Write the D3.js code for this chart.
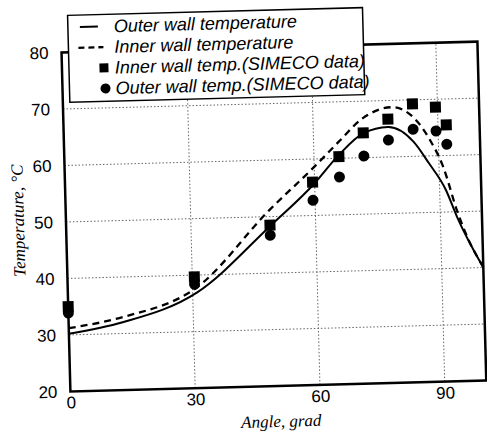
<!DOCTYPE html>
<html>
<head>
<meta charset="utf-8">
<script src="https://cdn.jsdelivr.net/npm/d3@7"></script>
<style>
  body { margin: 0; background: #fff; }
  svg { display: block; }
</style>
</head>
<body>
<svg id="chart"></svg>
<script>
/*
Data
*/

// calculated wall temperatures (curves)
const outerAngle = [0, 13, 31, 49, 60, 66, 72, 78, 84, 87.6, 91.5, 94, 100];
const outerTemp  = [30.2, 32.0, 36.9, 48.3, 55.7, 60.6, 64.3, 65.3, 62.6, 58.7, 53.9, 49.1, 40.0];
const innerAngle = [0, 13, 31, 49, 60, 66, 72, 79, 84, 88, 91, 94, 96, 100];
const innerTemp  = [31.2, 32.9, 37.8, 51.2, 58.6, 62.9, 67.0, 68.8, 67.0, 62.8, 58.0, 50.3, 46.1, 40.1];

// SIMECO measurements
const simAngle   = [0, 30.5, 49, 59.5, 66, 72, 78, 84, 89.5, 92];
const simInner   = [35.0, 39.7, 48.5, 55.9, 60.3, 64.4, 66.7, 69.3, 68.6, 65.4];
const simOuter   = [33.9, 38.4, 46.7, 52.7, 56.7, 60.3, 63.0, 64.8, 64.4, 62.0];

// axes
const xTicks = [0, 30, 60, 90];
const yTicks = [20, 30, 40, 50, 60, 70, 80];
const xGrid  = [30, 60, 90];
const yGrid  = [30, 40, 50, 60, 70];

const legendLabels = [
  "Outer wall temperature",
  "Inner wall temperature",
  "Inner wall temp.(SIMECO data)",
  "Outer wall temp.(SIMECO data)"
];

/*
Prototype
*/

let WallChart = function (config) {
  return this.__init__(config);
};

WallChart.prototype = {

  __init__ : function (config) {
    const self = this;

    self.id     = config.id;
    self.width  = config.width;
    self.height = config.height;

    self.x = d3.scaleLinear().domain([0, 100]).range([66, 482]);
    self.y = d3.scaleLinear().domain([20, 80]).range([386, 47]);

    self.svg = d3.select(self.id)
      .attr("width", self.width)
      .attr("height", self.height)
      .attr("viewBox", "0 0 " + self.width + " " + self.height);

    // the scanned figure sits slightly tilted
    self.g = self.svg.append("g")
      .attr("transform", "rotate(-1.5, 275, 220)");

    self.grid().curves().points().frame().axes().legend();
    return self;
  },

  grid : function () {
    const self = this, x = self.x, y = self.y;
    const gg = self.g.append("g")
      .attr("stroke", "#555")
      .attr("stroke-width", 0.9)
      .attr("stroke-dasharray", "1.5,2");

    gg.selectAll("line.h").data(yGrid).enter().append("line")
      .attr("x1", x(0)).attr("x2", x(100))
      .attr("y1", d => y(d)).attr("y2", d => y(d));

    gg.selectAll("line.v").data(xGrid).enter().append("line")
      .attr("x1", d => x(d)).attr("x2", d => x(d))
      .attr("y1", y(20)).attr("y2", y(80));
    return self;
  },

  curves : function () {
    const self = this, x = self.x, y = self.y;
    const line = d3.line()
      .x(d => x(d[0]))
      .y(d => y(d[1]))
      .curve(d3.curveMonotoneX);

    self.g.append("path")
      .datum(d3.zip(outerAngle, outerTemp))
      .attr("d", line)
      .attr("fill", "none")
      .attr("stroke", "#000")
      .attr("stroke-width", 2);

    self.g.append("path")
      .datum(d3.zip(innerAngle, innerTemp))
      .attr("d", line)
      .attr("fill", "none")
      .attr("stroke", "#000")
      .attr("stroke-width", 2.3)
      .attr("stroke-dasharray", "7,5");
    return self;
  },

  points : function () {
    const self = this, x = self.x, y = self.y;
    const s = 11;

    self.g.append("g").selectAll("circle")
      .data(d3.zip(simAngle, simOuter)).enter()
      .append("circle")
      .attr("cx", d => x(d[0]))
      .attr("cy", d => y(d[1]))
      .attr("r", 5.5)
      .attr("fill", "#000");

    self.g.append("g").selectAll("rect")
      .data(d3.zip(simAngle, simInner)).enter()
      .append("rect")
      .attr("x", d => x(d[0]) - s / 2)
      .attr("y", d => y(d[1]) - s / 2)
      .attr("width", s)
      .attr("height", s)
      .attr("fill", "#000");
    return self;
  },

  frame : function () {
    const self = this, x = self.x, y = self.y;
    self.g.append("rect")
      .attr("x", x(0)).attr("y", y(80))
      .attr("width", x(100) - x(0))
      .attr("height", y(20) - y(80))
      .attr("fill", "none")
      .attr("stroke", "#000")
      .attr("stroke-width", 2.5);
    return self;
  },

  axes : function () {
    const self = this, x = self.x, y = self.y;

    const ya = self.g.append("g")
      .attr("transform", "translate(" + x(0) + ",0)")
      .call(d3.axisLeft(y).tickValues(yTicks).tickSize(0).tickPadding(13));
    ya.select(".domain").remove();

    const xa = self.g.append("g")
      .attr("transform", "translate(0," + y(20) + ")")
      .call(d3.axisBottom(x).tickValues(xTicks).tickSize(0).tickPadding(5));
    xa.select(".domain").remove();

    self.g.selectAll(".tick text")
      .attr("font-family", "'Liberation Sans', Arial, sans-serif")
      .attr("font-size", 17)
      .attr("fill", "#000");

    self.g.append("text")
      .attr("x", 276).attr("y", 427)
      .attr("text-anchor", "middle")
      .attr("font-family", "'Liberation Serif', 'Times New Roman', serif")
      .attr("font-style", "italic")
      .attr("font-size", 17)
      .text("Angle, grad");

    self.g.append("text")
      .attr("transform", "translate(24,214) rotate(-90)")
      .attr("text-anchor", "middle")
      .attr("font-family", "'Liberation Serif', 'Times New Roman', serif")
      .attr("font-style", "italic")
      .attr("font-size", 17)
      .text("Temperature, °C");
    return self;
  },

  legend : function () {
    const self = this;
    const lg = self.g.append("g");

    lg.append("rect")
      .attr("x", 73).attr("y", 10)
      .attr("width", 295).attr("height", 87)
      .attr("fill", "#fff")
      .attr("stroke", "#000")
      .attr("stroke-width", 1.5);

    const base = i => 28 + i * 20.7;

    lg.append("line")
      .attr("x1", 85).attr("x2", 103)
      .attr("y1", base(0) - 6).attr("y2", base(0) - 6)
      .attr("stroke", "#000").attr("stroke-width", 2);

    lg.append("line")
      .attr("x1", 83).attr("x2", 108)
      .attr("y1", base(1) - 6).attr("y2", base(1) - 6)
      .attr("stroke", "#000").attr("stroke-width", 2.3)
      .attr("stroke-dasharray", "6,4");

    lg.append("rect")
      .attr("x", 108 - 4.5).attr("y", base(2) - 6 - 4.5)
      .attr("width", 9).attr("height", 9)
      .attr("fill", "#000");

    lg.append("circle")
      .attr("cx", 109).attr("cy", base(3) - 6)
      .attr("r", 5)
      .attr("fill", "#000");

    lg.selectAll("text").data(legendLabels).enter()
      .append("text")
      .attr("x", 119)
      .attr("y", (d, i) => base(i))
      .attr("font-family", "'Liberation Sans', Arial, sans-serif")
      .attr("font-style", "italic")
      .attr("font-size", 18)
      .text(d => d);
    return self;
  }

};

new WallChart({ id: "#chart", width: 487, height: 436 });
</script>
</body>
</html>
